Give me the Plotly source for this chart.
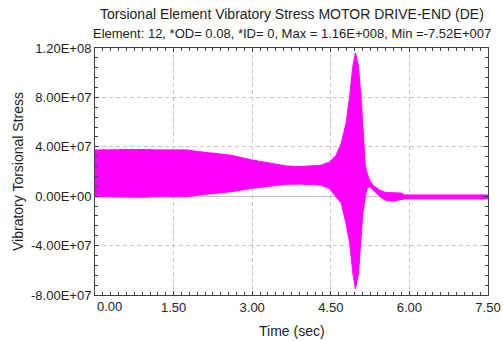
import plotly.graph_objects as go

# Envelope of the vibratory stress signal, stress in Pa
t_env = [0.00, 0.30, 0.60, 0.90, 1.20, 1.50, 1.75, 2.00, 2.30, 2.60, 3.00, 3.30,
         3.65, 3.90, 4.15, 4.30, 4.47, 4.60, 4.70, 4.79, 4.86, 4.92, 4.97, 5.03,
         5.08, 5.11, 5.16, 5.20, 5.24, 5.30, 5.43, 5.55, 5.70, 5.85, 5.90, 6.20,
         6.60, 7.00, 7.50]
upper_m = [37.5, 37.8, 37.5, 37.8, 37.5, 37.8, 37.5, 36.0, 34.5, 33.2, 29.3, 27.0,
           24.5, 24.0, 24.5, 25.0, 27.5, 33.0, 43.0, 59.0, 81.0, 105.0, 116.0, 105.0,
           78.0, 54.0, 24.0, 18.0, 13.0, 9.0, 5.0, 3.0, 2.5, 2.5, 1.0, 1.0,
           1.0, 1.0, 1.0]
lower_m = [-0.5, -0.8, -0.5, -0.8, -0.5, -0.8, -0.5, 1.0, 2.5, 3.6, 6.4, 8.0,
           9.6, 9.8, 9.6, 9.0, 6.4, -0.4, -5.8, -22.0, -38.0, -62.0, -75.2, -62.0,
           -35.0, -14.0, 0.0, 7.0, 7.5, 5.5, 0.0, -3.5, -4.0, -3.0, -2.2, -2.2,
           -2.2, -2.2, -2.2]
upper = [v * 1e6 for v in upper_m]
lower = [v * 1e6 for v in lower_m]

x_ticks = [1.5, 3.0, 4.5, 6.0, 7.5]
x_ticktext = ["1.50", "3.00", "4.50", "6.00", "7.50"]
y_ticks = [-8e7, -4e7, 0, 4e7, 8e7, 1.2e8]
y_ticktext = ["-8.00E+07", "-4.00E+07", "0.00E+00", "4.00E+07", "8.00E+07", "1.20E+08"]

title_line1 = "Torsional Element Vibratory Stress MOTOR DRIVE-END (DE)"
title_line2 = "Element: 12, *OD= 0.08, *ID= 0, Max = 1.16E+008, Min =-7.52E+007"
x_title = "Time (sec)"
y_title = "Vibratory Torsional Stress"

MAG = "#FF00FF"
FONT = "Liberation Sans, Arial, sans-serif"
TXT = "#222222"

fig = go.Figure()
fig.add_trace(go.Scatter(x=t_env, y=lower, mode="lines",
                         line=dict(color=MAG, width=1), showlegend=False,
                         hoverinfo="skip"))
fig.add_trace(go.Scatter(x=t_env, y=upper, mode="lines", fill="tonexty",
                         fillcolor=MAG, line=dict(color=MAG, width=1),
                         showlegend=False, hoverinfo="skip"))

axis_common = dict(
    showline=True, linecolor="#404040", linewidth=1, mirror="allticks",
    ticks="inside", ticklen=4, tickcolor="#404040",
    showgrid=True, gridcolor="#c4c4c4", griddash="4px,3px", gridwidth=1,
    tickfont=dict(family=FONT, size=13, color=TXT),
    automargin=False,
)

fig.update_xaxes(
    range=[0, 7.5], tickvals=x_ticks, ticktext=x_ticktext,
    zeroline=False,
    minor=dict(dtick=0.15, tick0=0, ticks="inside", ticklen=3, tickcolor="#404040", showgrid=False),
    **axis_common,
)
fig.update_yaxes(
    range=[-8e7, 1.2e8], tickvals=y_ticks, ticktext=y_ticktext,
    zeroline=True, zerolinecolor="#c4c4c4", zerolinewidth=1,
    minor=dict(dtick=8e6, tick0=0, ticks="inside", ticklen=3, tickcolor="#404040", showgrid=False),
    title=dict(text=y_title, font=dict(family=FONT, size=14, color=TXT), standoff=4),
    **axis_common,
)

fig.add_annotation(x=0, xref="x", y=0, yref="paper", yshift=-11, xanchor="left",
                   yanchor="middle", text="0.00", showarrow=False,
                   font=dict(family=FONT, size=13, color=TXT))
fig.add_annotation(x=0.5, xref="paper", y=0, yref="paper", yshift=-36,
                   xanchor="center", yanchor="middle", text=x_title,
                   showarrow=False, font=dict(family=FONT, size=14, color=TXT))
fig.add_annotation(x=0.5, xref="paper", y=1, yref="paper", yshift=34,
                   xanchor="center", yanchor="middle", text=title_line1,
                   showarrow=False, font=dict(family=FONT, size=14, color=TXT))
fig.add_annotation(x=0.5, xref="paper", y=1, yref="paper", yshift=15,
                   xanchor="center", yanchor="middle", text=title_line2,
                   showarrow=False, font=dict(family=FONT, size=13, color=TXT))

fig.update_layout(
    width=503, height=341,
    margin=dict(l=95, r=15, t=48, b=46),
    paper_bgcolor="white", plot_bgcolor="white",
)

fig.write_html("out.html")
